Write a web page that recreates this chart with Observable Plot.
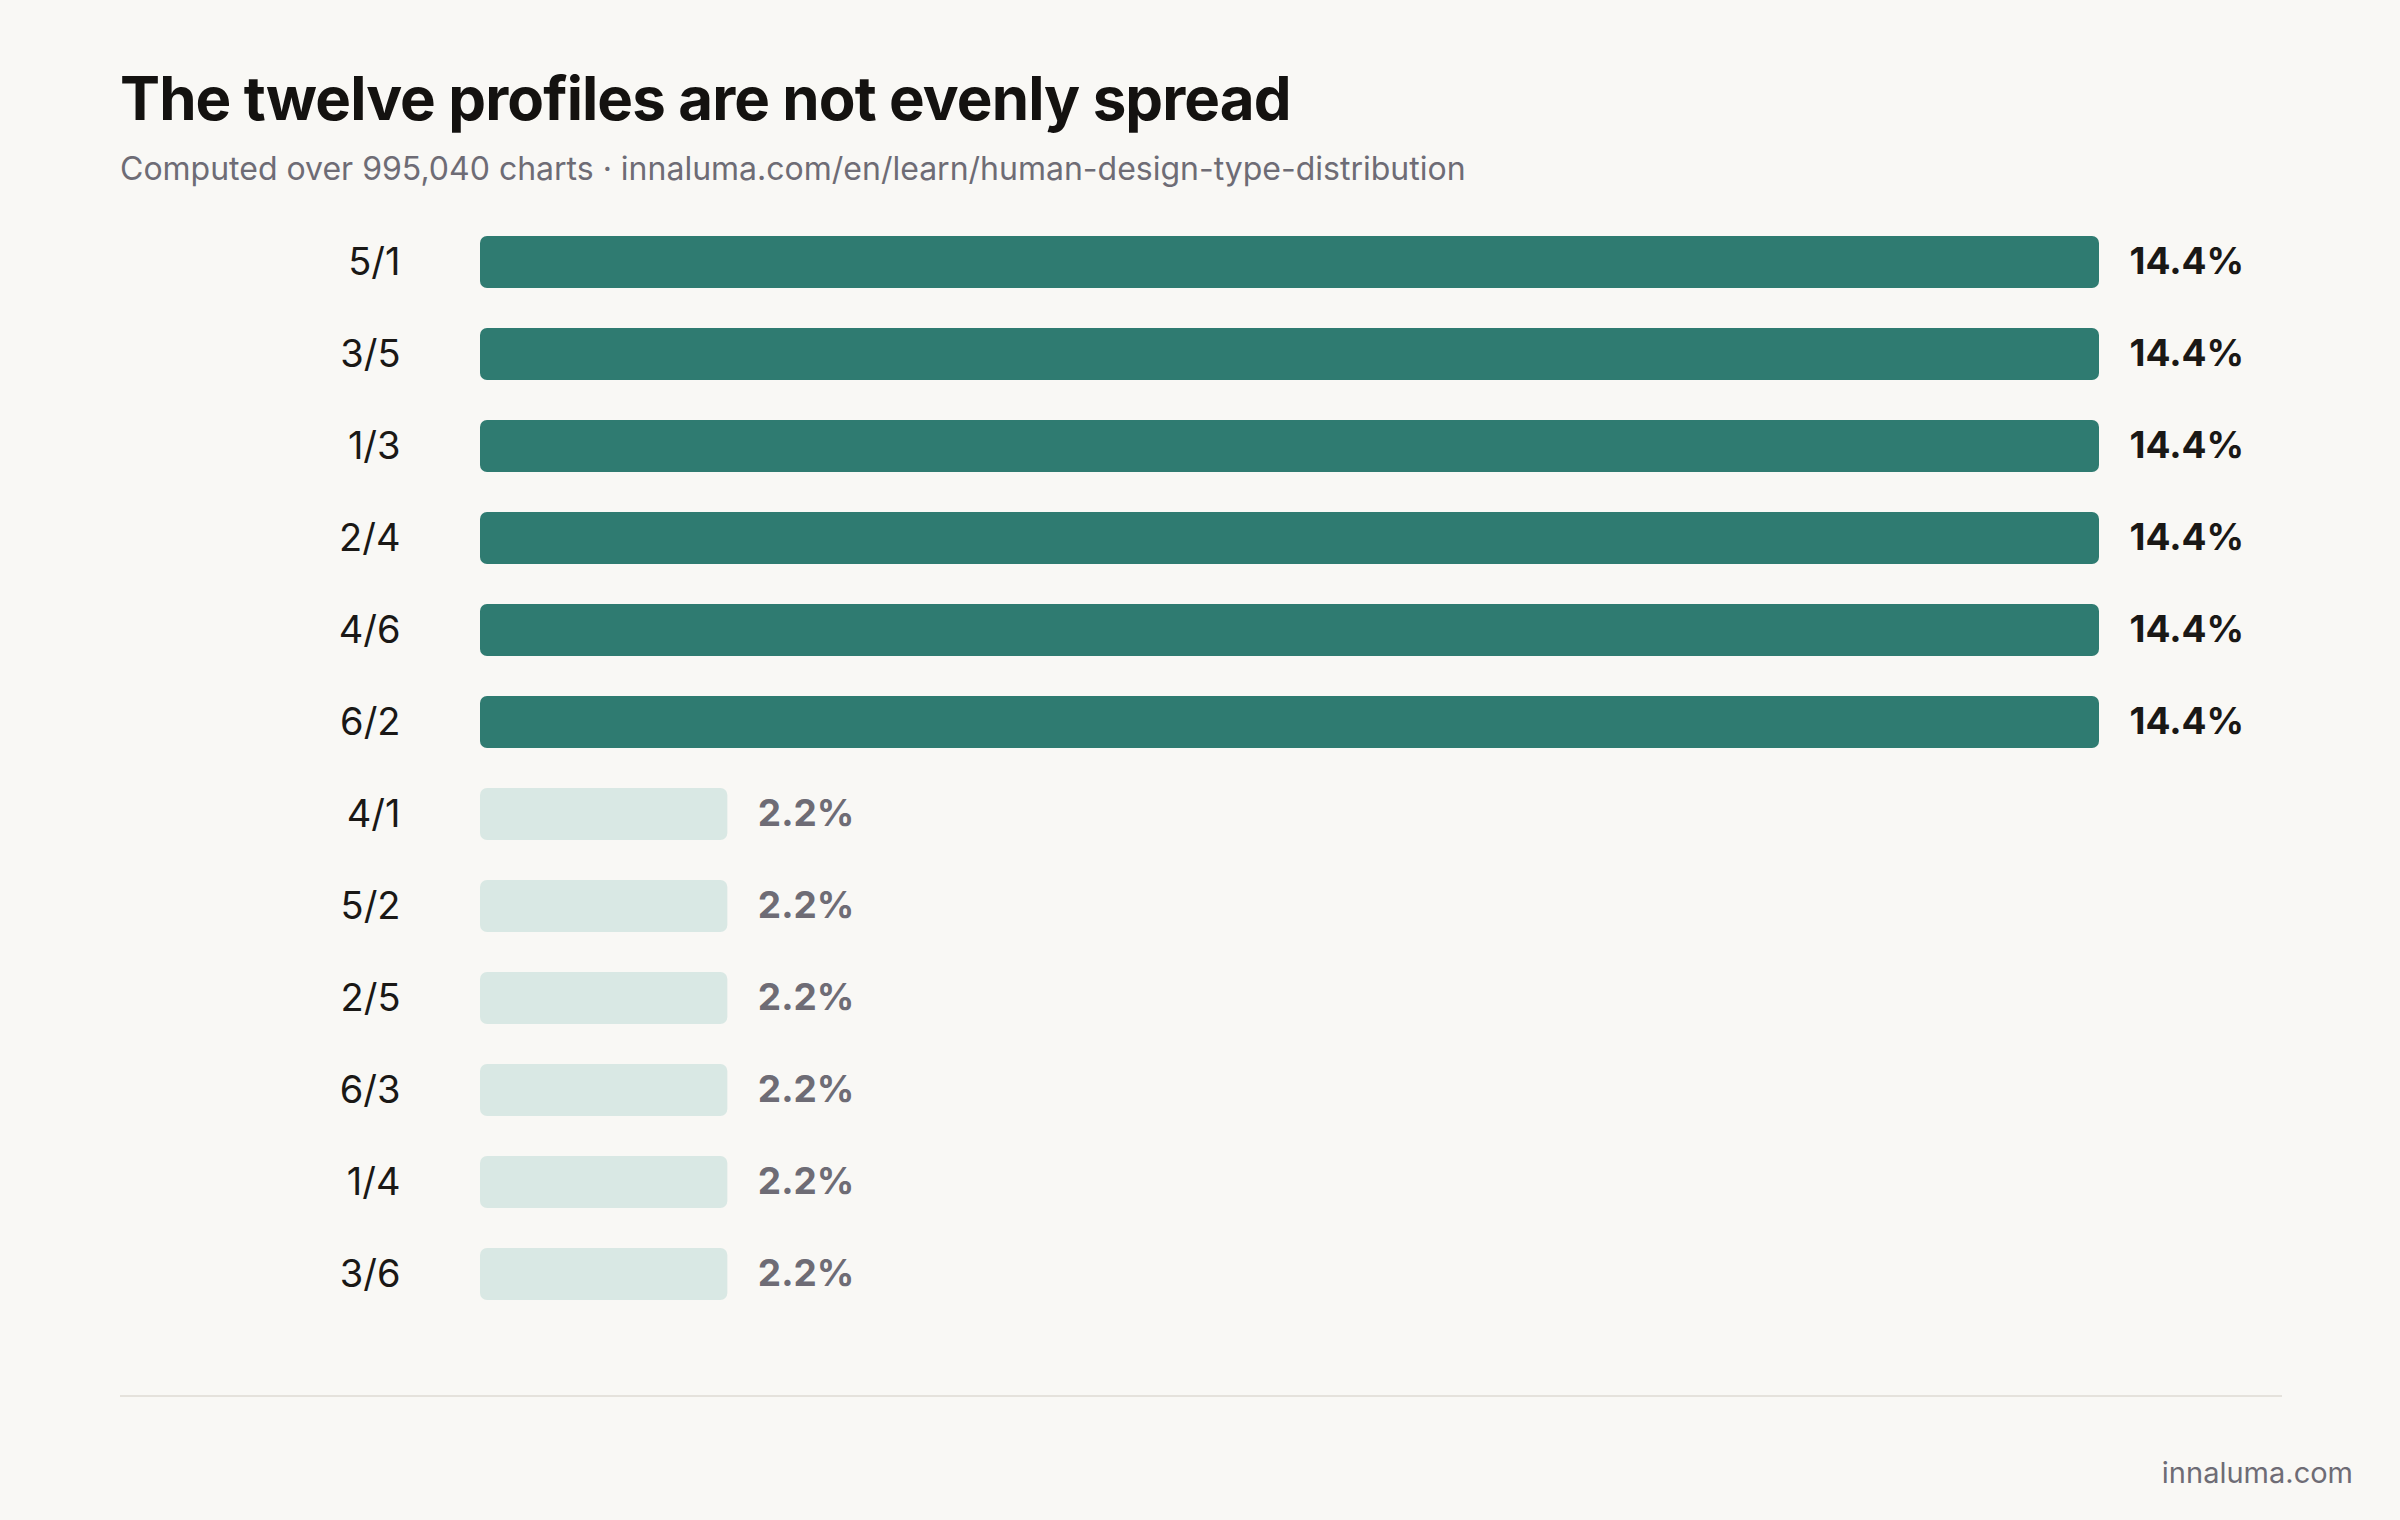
<!DOCTYPE html>
<html>
<head>
<meta charset="utf-8">
<script src="https://cdn.jsdelivr.net/npm/d3@7"></script>
<script src="https://cdn.jsdelivr.net/npm/@observablehq/plot@0.6"></script>
<style>
  html, body { margin: 0; padding: 0; background: #f9f8f5; }
  #page { position: relative; width: 2400px; height: 1520px; background: #f9f8f5; font-family: Inter, "Noto Sans", sans-serif; overflow: hidden; }
  #title { position: absolute; left: 120px; top: 68px; font-size: 60px; font-weight: 700; color: #141210; letter-spacing: -0.9px; line-height: 1; white-space: nowrap; }
  #subtitle { position: absolute; left: 120px; top: 153px; font-size: 32px; font-weight: 400; color: #6e6c75; line-height: 1; white-space: nowrap; }
  #chart { position: absolute; left: 0; top: 196px; }
  #rule { position: absolute; left: 120px; width: 2162px; top: 1395px; height: 2px; background: #e5e2dc; }
  #footer { position: absolute; right: 47px; top: 1458px; font-size: 29px; color: #6e6c75; line-height: 1; white-space: nowrap; }
</style>
</head>
<body>
<div id="page">
  <div id="title">The twelve profiles are not evenly spread</div>
  <div id="subtitle">Computed over 995,040 charts · innaluma.com/en/learn/human-design-type-distribution</div>
  <div id="chart"></div>
  <div id="rule"></div>
  <div id="footer">innaluma.com</div>
</div>
<script>
const profiles = ["5/1", "3/5", "1/3", "2/4", "4/6", "6/2", "4/1", "5/2", "2/5", "6/3", "1/4", "3/6"];
const shares = [14.4, 14.4, 14.4, 14.4, 14.4, 14.4, 2.2, 2.2, 2.2, 2.2, 2.2, 2.2];
const groups = ["major", "major", "major", "major", "major", "major", "minor", "minor", "minor", "minor", "minor", "minor"];

const data = profiles.map((p, i) => ({profile: p, share: shares[i], group: groups[i]}));

const chart = Plot.plot({
  width: 2400,
  height: 1144,
  marginLeft: 480,
  marginRight: 301,
  marginTop: 0,
  marginBottom: 0,
  style: { background: "transparent", fontFamily: "Inter, 'Noto Sans', sans-serif", overflow: "visible" },
  x: { domain: [0, 14.4], axis: null },
  y: { domain: profiles, padding: 0.435, round: false, label: null },
  color: { domain: ["major", "minor"], range: ["#2f7b71", "#d9e8e4"] },
  marks: [
    Plot.barX(data, { x: "share", y: "profile", fill: "group", rx: 7 }),
    Plot.axisY({ tickSize: 0, tickPadding: 80, fontSize: 38, fill: "#1a1816", label: null, textAnchor: "end" }),
    Plot.text(data, {
      x: "share", y: "profile", text: d => d.share.toFixed(1) + "%",
      dx: 30, textAnchor: "start", fontSize: 37, fontWeight: 700,
      fill: d => d.group === "major" ? "#1a1816" : "#6e6c75"
    })
  ]
});
document.getElementById("chart").appendChild(chart);
</script>
</body>
</html>
